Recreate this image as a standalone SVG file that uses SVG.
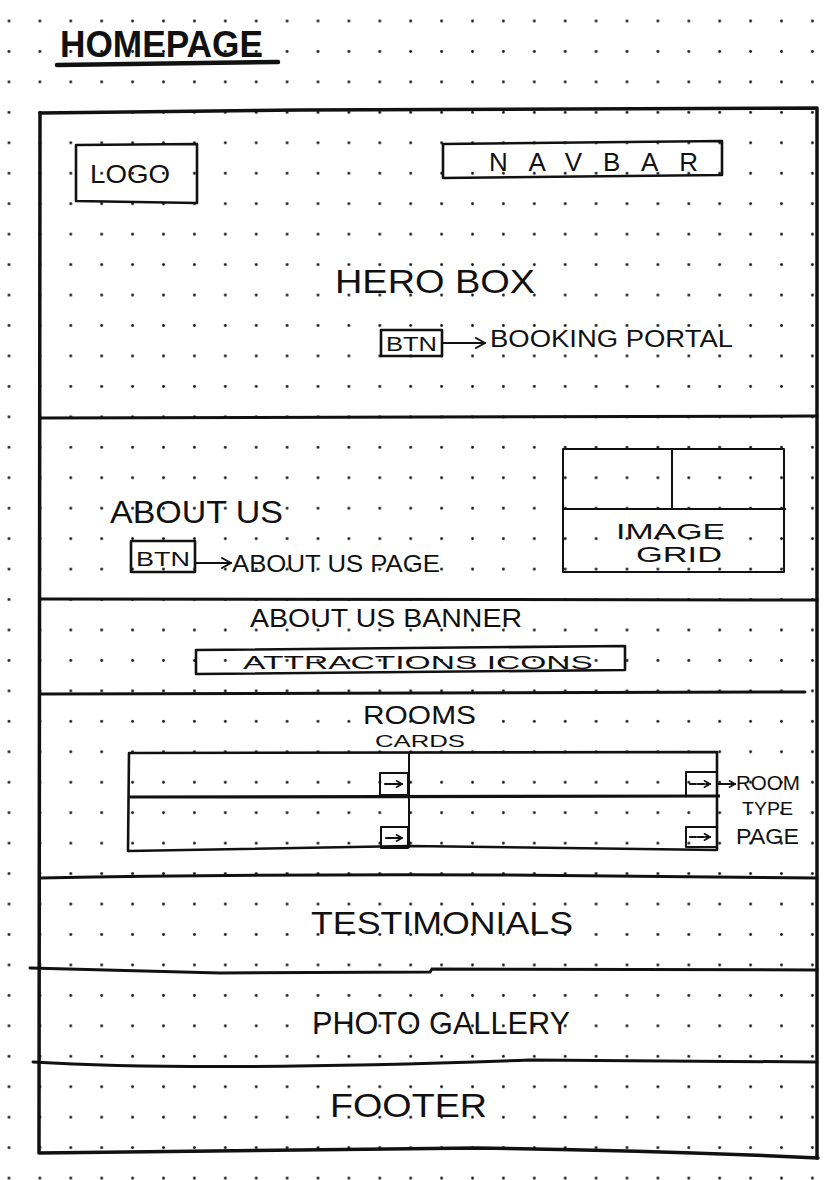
<svg xmlns="http://www.w3.org/2000/svg" width="828" height="1180" viewBox="0 0 828 1180">
  <defs>
    <pattern id="dots" x="-6.45" y="5.8" width="30.9" height="30.45" patternUnits="userSpaceOnUse">
      <circle cx="15.45" cy="15.2" r="1.4" fill="#111"/>
    </pattern>
    <marker id="arr" viewBox="0 0 12 12" refX="11" refY="6" markerWidth="12" markerHeight="12" markerUnits="userSpaceOnUse" orient="auto">
      <polyline points="2,1 11,6 2,11" fill="none" stroke="#111" stroke-width="2" stroke-linecap="round" stroke-linejoin="round"/>
    </marker>
    <marker id="arrs" viewBox="0 0 10 10" refX="9" refY="5" markerWidth="8" markerHeight="8" markerUnits="userSpaceOnUse" orient="auto">
      <polyline points="2,1 9,5 2,9" fill="none" stroke="#111" stroke-width="2" stroke-linecap="round" stroke-linejoin="round"/>
    </marker>
  </defs>
  <style>
    .t { font-family: "Liberation Sans", "DejaVu Sans", sans-serif; fill: #111; }
    .frame { fill: none; stroke: #111; stroke-width: 3.5; stroke-linecap: round; stroke-linejoin: round; }
    .div { fill: none; stroke: #111; stroke-width: 3; stroke-linecap: round; }
    .box { fill: none; stroke: #111; stroke-width: 2.6; stroke-linejoin: round; }
    .thin { fill: none; stroke: #111; stroke-width: 2; stroke-linejoin: round; }
    .con { fill: none; stroke: #111; stroke-width: 2.2; stroke-linecap: round; }
  </style>

  <rect x="0" y="0" width="828" height="1180" fill="#fff"/>
  <rect x="0" y="0" width="828" height="1180" fill="url(#dots)"/>

  <g id="title">
    <text class="t" x="60" y="57" font-size="36" font-weight="bold" textLength="203" lengthAdjust="spacingAndGlyphs">HOMEPAGE</text>
    <path d="M57,65 L278,62" stroke="#111" stroke-width="4.5" stroke-linecap="round" fill="none"/>
  </g>

  <g id="page-frame">
    <path class="frame" d="M40,113 L300,110 L817,108 L817,1158"/>
    <path class="frame" d="M40,113 L39,1153 Q300,1150 476,1148 Q650,1150 818,1158"/>
  </g>

  <g id="section-dividers">
    <path class="div" d="M40,418 L817,416"/>
    <path class="div" d="M40,599 L817,600"/>
    <path class="div" d="M40,694 L805,692"/>
    <path class="div" d="M40,878 Q260,874 500,875 L817,878"/>
    <path class="div" d="M30,968 L220,973 L430,972 L432,969 L817,970"/>
    <path class="div" d="M33,1062 Q200,1072 530,1060 L817,1062"/>
  </g>

  <g id="logo">
    <path class="box" d="M76,145 L197,144 L197,203 L76,201 Z"/>
    <text class="t" x="90" y="183" font-size="25" textLength="80" lengthAdjust="spacingAndGlyphs">LOGO</text>
  </g>

  <g id="navbar">
    <path class="box" d="M443,144 L722,141 L722,175 L443,178 Z"/>
    <text class="t" x="489" y="171" font-size="26" textLength="209" lengthAdjust="spacing">NAVBAR</text>
  </g>

  <g id="hero-box">
    <text class="t" x="335" y="293" font-size="33" textLength="200" lengthAdjust="spacingAndGlyphs">HERO BOX</text>
  </g>

  <g id="hero-btn">
    <rect class="box" x="381" y="330" width="61" height="26"/>
    <text class="t" x="386" y="351" font-size="21" textLength="51" lengthAdjust="spacingAndGlyphs">BTN</text>
  </g>

  <g id="booking-portal">
    <text class="t" x="490" y="347" font-size="23" textLength="243" lengthAdjust="spacingAndGlyphs">BOOKING PORTAL</text>
  </g>

  <g id="about-us">
    <text class="t" x="110" y="523" font-size="31" textLength="173" lengthAdjust="spacingAndGlyphs">ABOUT US</text>
  </g>

  <g id="about-btn">
    <rect class="box" x="131" y="541" width="64" height="31"/>
    <text class="t" x="136" y="566" font-size="21" textLength="54" lengthAdjust="spacingAndGlyphs">BTN</text>
  </g>

  <g id="about-us-page">
    <text class="t" x="232" y="572" font-size="24" textLength="208" lengthAdjust="spacingAndGlyphs">ABOUT US PAGE</text>
  </g>

  <g id="image-grid">
    <rect class="thin" x="563" y="449" width="221" height="123"/>
    <line class="thin" x1="563" y1="509" x2="786" y2="509"/>
    <line class="thin" x1="672" y1="449" x2="672" y2="509"/>
    <text class="t" x="616" y="539" font-size="22" textLength="109" lengthAdjust="spacingAndGlyphs">IMAGE</text>
    <text class="t" x="636" y="562" font-size="22" textLength="86" lengthAdjust="spacingAndGlyphs">GRID</text>
  </g>

  <g id="about-us-banner">
    <text class="t" x="250" y="627" font-size="25" textLength="272" lengthAdjust="spacingAndGlyphs">ABOUT US BANNER</text>
  </g>

  <g id="attractions-icons">
    <path class="box" d="M196,650 L625,646 L625,670 L196,674 Z"/>
    <text class="t" x="243" y="669" font-size="19" textLength="350" lengthAdjust="spacingAndGlyphs">ATTRACTIONS ICONS</text>
  </g>

  <g id="rooms-cards">
    <text class="t" x="363" y="724" font-size="25" textLength="113" lengthAdjust="spacingAndGlyphs">ROOMS</text>
    <text class="t" x="375" y="747" font-size="17" textLength="90" lengthAdjust="spacingAndGlyphs">CARDS</text>
    <path class="box" d="M129,753 L717,752 L717,850 L409,846 L128,851 Z"/>
    <path d="M128,797 L720,796" stroke="#111" stroke-width="3.2" fill="none"/>
    <line class="thin" x1="409" y1="752" x2="409" y2="848"/>
    <rect class="thin" x="380" y="773" width="28" height="22"/>
    <line class="con" x1="385" y1="784" x2="402" y2="784" marker-end="url(#arrs)"/>
    <rect class="thin" x="686" y="772" width="31" height="24"/>
    <line class="con" x1="690" y1="784" x2="710" y2="784" stroke-dasharray="6 2" marker-end="url(#arrs)"/>
    <rect class="thin" x="381" y="827" width="27" height="21"/>
    <line class="con" x1="386" y1="838" x2="402" y2="838" marker-end="url(#arrs)"/>
    <rect class="thin" x="686" y="827" width="31" height="20"/>
    <line class="con" x1="690" y1="837" x2="710" y2="837" stroke-dasharray="6 2" marker-end="url(#arrs)"/>
  </g>

  <g id="room-type-page">
    <text class="t" x="736" y="790" font-size="20" textLength="64" lengthAdjust="spacingAndGlyphs">ROOM</text>
    <text class="t" x="742" y="815" font-size="18" textLength="51" lengthAdjust="spacingAndGlyphs">TYPE</text>
    <text class="t" x="736" y="844" font-size="22" textLength="63" lengthAdjust="spacingAndGlyphs">PAGE</text>
  </g>

  <g id="testimonials">
    <text class="t" x="311" y="934" font-size="31" textLength="262" lengthAdjust="spacingAndGlyphs">TESTIMONIALS</text>
  </g>

  <g id="photo-gallery">
    <text class="t" x="312" y="1034" font-size="31" textLength="258" lengthAdjust="spacingAndGlyphs">PHOTO GALLERY</text>
  </g>

  <g id="footer">
    <text class="t" x="330" y="1117" font-size="33" textLength="157" lengthAdjust="spacingAndGlyphs">FOOTER</text>
  </g>

  <g id="connectors">
    <line class="con" x1="443" y1="343" x2="485" y2="343" marker-end="url(#arr)"/>
    <line class="con" x1="196" y1="563" x2="231" y2="563" marker-end="url(#arr)"/>
    <line class="con" x1="718" y1="784" x2="735" y2="784" marker-end="url(#arrs)"/>
  </g>
</svg>
